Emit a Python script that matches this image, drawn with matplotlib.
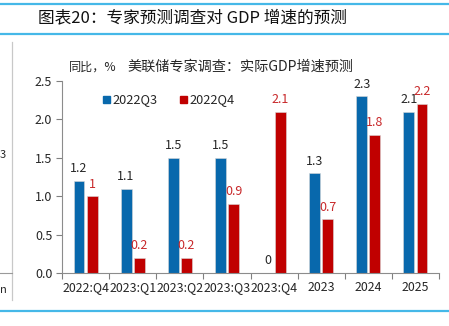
import matplotlib
matplotlib.use("Agg")
import matplotlib.pyplot as plt
from matplotlib.lines import Line2D
from matplotlib.patches import Rectangle
import numpy as np

plt.rcParams['font.family'] = ['Noto Sans CJK SC', 'DejaVu Sans']

categories = ["2022:Q4", "2023:Q1", "2023:Q2", "2023:Q3", "2023:Q4", "2023", "2024", "2025"]
q3_values = [1.2, 1.1, 1.5, 1.5, 0.0, 1.3, 2.3, 2.1]
q4_values = [1.0, 0.2, 0.2, 0.9, 2.1, 0.7, 1.8, 2.2]
q3_labels = ["1.2", "1.1", "1.5", "1.5", "0", "1.3", "2.3", "2.1"]
q4_labels = ["1", "0.2", "0.2", "0.9", "2.1", "0.7", "1.8", "2.2"]
y_ticks = [0.0, 0.5, 1.0, 1.5, 2.0, 2.5]

W, H = 449, 326
BLUE = "#0868AC"
RED = "#C00000"
RED_TXT = "#C8282A"
LINE_BLUE = "#45B8E8"
TXT = "#262626"

fig = plt.figure(figsize=(W / 100, H / 100), dpi=100)


def fx(px):
    return px / W


def fy(py):
    return 1 - py / H


# page frame lines
for yy in (3.5, 33.5, 310.5):
    fig.add_artist(Line2D([0, 1], [fy(yy), fy(yy)], color=LINE_BLUE, lw=1.6,
                          transform=fig.transFigure))
fig.add_artist(Line2D([fx(12), fx(12)], [fy(42), fy(300)], color="#c8c8c8", lw=0.9,
                      transform=fig.transFigure))
fig.add_artist(Line2D([0, fx(12)], [fy(273), fy(273)], color="#9a9a9a", lw=0.8,
                      transform=fig.transFigure))
fig.text(fx(0), fy(155), "3", fontsize=8, color=TXT, va="center", ha="left")
fig.text(fx(0), fy(290), "n", fontsize=8, color=TXT, va="center", ha="left")

fig.text(fx(38), fy(18), "图表20：专家预测调查对 GDP 增速的预测", fontsize=12,
         color="#111111", va="center", ha="left", style="italic")

ax = fig.add_axes([fx(62), fy(273), fx(439) - fx(62), (273 - 81) / H])

x = np.arange(len(categories))
off = 0.14
bw = 0.23
ax.bar(x - off, q3_values, width=bw, color=BLUE, edgecolor="#d8d8d8", linewidth=0.4, zorder=2)
ax.bar(x + off, q4_values, width=bw, color=RED, edgecolor="#d8d8d8", linewidth=0.4, zorder=2)

for xi, v, s in zip(x, q3_values, q3_labels):
    ax.annotate(s, (xi - off, v), xytext=(0, 4), textcoords="offset points",
                ha="center", va="bottom", fontsize=9, color=TXT)
for xi, v, s in zip(x, q4_values, q4_labels):
    ax.annotate(s, (xi + off, v), xytext=(0, 4), textcoords="offset points",
                ha="center", va="bottom", fontsize=9, color=RED_TXT)

ax.set_xlim(-0.5, len(categories) - 0.5)
ax.set_ylim(0, 2.5)
ax.set_yticks(y_ticks)
ax.set_yticklabels([f"{t:.1f}" for t in y_ticks])
ax.set_xticks(np.arange(len(categories) + 1) - 0.5, minor=False)
ax.set_xticklabels([])
ax.set_xticks(x, minor=True)
ax.set_xticklabels(categories, minor=True)
ax.tick_params(axis="x", which="major", length=4, color="#808080", direction="out")
ax.tick_params(axis="x", which="minor", length=0, labelsize=8.9, colors=TXT, pad=6)
ax.tick_params(axis="y", length=4, color="#808080", direction="out", labelsize=9,
               labelcolor=TXT, pad=3)
for side in ("top", "right"):
    ax.spines[side].set_visible(False)
for side in ("left", "bottom"):
    ax.spines[side].set_color("#8c8c8c")
    ax.spines[side].set_linewidth(0.8)
ax.patch.set_alpha(0)

# subtitle and legend
fig.text(fx(69), fy(67), "同比，%", fontsize=8.7, color=TXT, va="center", ha="left")
fig.text(fx(127), fy(67), "美联储专家调查：实际GDP增速预测", fontsize=10.2, color=TXT,
         va="center", ha="left")
for px, col, name in ((103, BLUE, "2022Q3"), (180, RED, "2022Q4")):
    fig.patches.append(Rectangle((fx(px), fy(103)), fx(6.5), 6.5 / H,
                                 color=col, transform=fig.transFigure))
    fig.text(fx(px + 9), fy(99.5), name, fontsize=9.2, color=TXT, va="center", ha="left")

fig.savefig("out.png", dpi=100)
